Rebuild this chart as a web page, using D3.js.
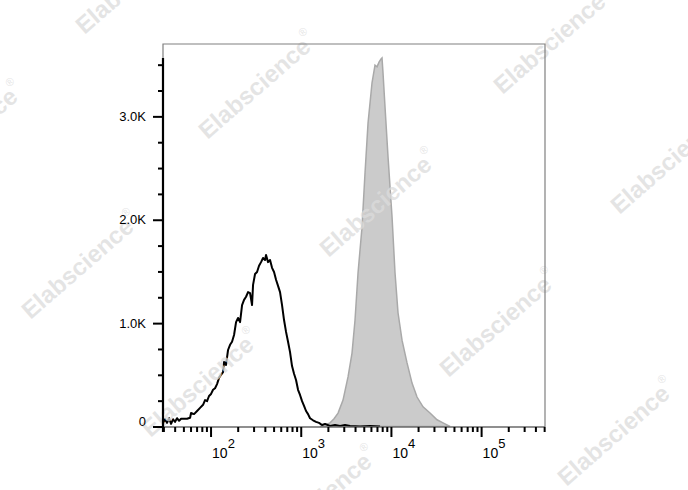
<!DOCTYPE html>
<html><head><meta charset="utf-8">
<script src="https://cdn.jsdelivr.net/npm/d3@7"></script>
<style>body{margin:0;background:#fff}svg{display:block}</style>
</head><body><svg id="c" width="688" height="490"></svg>
<script>
// ---- data ----
const blackX = [29.7,31.3,32.9,34.7,36.5,38.4,40.4,42.5,44.8,47.1,50.8,54.9,59.3,60.8,65.6,70.9,76.5,82.6,86.9,91.5,96.2,101.3,106.6,112.2,118,124.2,130.7,137.6,141.1,148.5,156.3,164.5,173.1,182.2,191.8,201.8,212.4,223.6,235.2,247.6,260.5,274.2,288.5,296,311.4,327.8,344.9,363,382,402,412.4,434,456.7,480.7,505.8,532.3,560.2,589.5,620.4,652.9,687.1,723.1,761,800.8,842.8,886.9,933.4,982.2,1034,1088,1145,1205,1268,1369,1478,1596,1722,1859,2113,2401,2728,3099,3521,4545,5867,7574];
const blackCounts = [25,70,35,80,25,70,45,80,55,75,75,75,85,130,120,150,180,210,255,245,295,315,355,370,410,470,500,525,625,595,740,790,820,885,1010,1050,1010,1175,1225,1255,1300,1290,1175,1370,1475,1495,1555,1590,1630,1610,1660,1590,1610,1535,1495,1420,1360,1300,1175,1030,915,820,720,585,510,450,355,305,245,200,150,120,80,60,45,35,15,25,5,15,5,15,5,0,5,0];
const grayX = [1637,1859,2113,2340,2592,2944,3345,3704,3999,4318,4782,5163,5574,6172,6663,7013,7381,7766,7967,8173,8601,9287,10285,11105,11987,13278,15088,17137,19475,22693,27130,32447,37810,45205];
const grayCounts = [0,15,35,75,130,255,480,710,1030,1485,1930,2455,2935,3325,3495,3480,3525,3555,3565,3420,3090,2610,2030,1485,1100,835,615,420,285,190,130,65,35,0];
const yMajorTicks = [0,1000,2000,3000];
const yTickLabels = ["0","1.0K","2.0K","3.0K"];
const yMinorTicks = [250,500,750,1250,1500,1750,2250,2500,2750,3250,3500];
const xMajorTicks = [100,1000,10000,100000];
const xTickExponents = ["2","3","4","5"];
const xMinorTicks = [30,40,50,60,70,80,90,200,300,400,500,600,700,800,900,2000,3000,4000,5000,6000,7000,8000,9000,20000,30000,40000,50000,60000,70000,80000,90000,200000,300000,400000,500000];
const watermarkText = "Elabscience";

// ---- layout ----
const L = 163, R = 545, T = 44, B = 426.5, AX = 427;
const wmPos = [[134,-20],[257,85],[378,203],[498,323],[616,432],[552,40],[669,160],[-36,135],[80,265],[200,383],[318,500]];

const svg = d3.select("#c");
const x = d3.scaleLog().domain([29.7, 511000]).range([L, R]);
const y = d3.scaleLinear().domain([0, 3700]).range([B, T]);

svg.append("defs").append("clipPath").attr("id","clip")
  .append("rect").attr("x",L).attr("y",T).attr("width",R-L).attr("height",AX-T);

const plot = svg.append("g").attr("clip-path","url(#clip)");
const grayData = grayX.map((v,i)=>[v,grayCounts[i]]);
const blackData = blackX.map((v,i)=>[v,blackCounts[i]]);

plot.append("path").datum(grayData)
  .attr("d", d3.area().x(d=>x(d[0])).y0(y(0)).y1(d=>y(d[1])))
  .attr("fill","#cbcbcb").attr("stroke","#a9a9a9").attr("stroke-width",1.5);

// watermarks
const wm = svg.append("g");
wmPos.forEach(p=>{
  const t = wm.append("text")
    .attr("transform",`translate(${p[0]},${p[1]}) rotate(-41)`)
    .attr("text-anchor","middle").attr("dominant-baseline","central")
    .attr("font-family","'Liberation Sans', Arial, sans-serif")
    .attr("font-weight","bold").attr("font-size",24)
    .attr("fill","#dcdcdc").attr("fill-opacity",0.75);
  t.append("tspan").text(watermarkText);
  t.append("tspan").attr("font-size",11).attr("font-weight","normal").attr("dy",-10).text("®");
});

plot.append("path").datum(blackData)
  .attr("d", d3.line().x(d=>x(d[0])).y(d=>y(d[1])))
  .attr("fill","none").attr("stroke","#000").attr("stroke-width",2).attr("stroke-linejoin","round");

// frame
const frame = svg.append("g").attr("stroke","#808080").attr("stroke-width",1.2).attr("fill","none");
frame.append("path").attr("d",`M${L},62V${T}H${R}V${AX}`);
frame.append("path").attr("d",`M${L},${AX}H${R}`).attr("stroke","#6a6a6a").attr("stroke-width",1.5);

// y axis
const font = "'Liberation Sans', Arial, sans-serif";
const yMinor = svg.append("g").attr("transform",`translate(${L},0)`)
  .call(d3.axisLeft(y).tickValues(yMinorTicks).tickSize(5).tickFormat(""));
const yMajor = svg.append("g").attr("transform",`translate(${L},0)`)
  .call(d3.axisLeft(y).tickValues(yMajorTicks).tickSize(10).tickPadding(7)
    .tickFormat((d,i)=>yTickLabels[i]));
[yMinor,yMajor].forEach(g=>{
  g.select(".domain").remove();
  g.selectAll(".tick line").attr("stroke","#000").attr("stroke-width",2);
});
yMajor.selectAll(".tick text").attr("font-family",font).attr("font-size",13).attr("fill","#000")
  .attr("y",(d)=>d===0?-5:0);
svg.append("line").attr("x1",L).attr("x2",L).attr("y1",58).attr("y2",432)
  .attr("stroke","#000").attr("stroke-width",2.2);

// x axis
const xMinor = svg.append("g").attr("transform",`translate(0,${AX})`)
  .call(d3.axisBottom(x).tickValues(xMinorTicks).tickSize(5).tickFormat(""));
const xMajor = svg.append("g").attr("transform",`translate(0,${AX})`)
  .call(d3.axisBottom(x).tickValues(xMajorTicks).tickSize(10).tickFormat(""));
[xMinor,xMajor].forEach(g=>{
  g.select(".domain").remove();
  g.selectAll(".tick line").attr("stroke","#000").attr("stroke-width",2);
});
xMajor.selectAll(".tick").each(function(d,i){
  const t = d3.select(this).append("text")
    .attr("x",1).attr("y",31).attr("text-anchor","start")
    .attr("font-family",font).attr("font-size",14).attr("fill","#000");
  t.append("tspan").text("10");
  t.append("tspan").attr("dy",-10).attr("font-size",13).text(xTickExponents[i]);
});
</script>
</body></html>
